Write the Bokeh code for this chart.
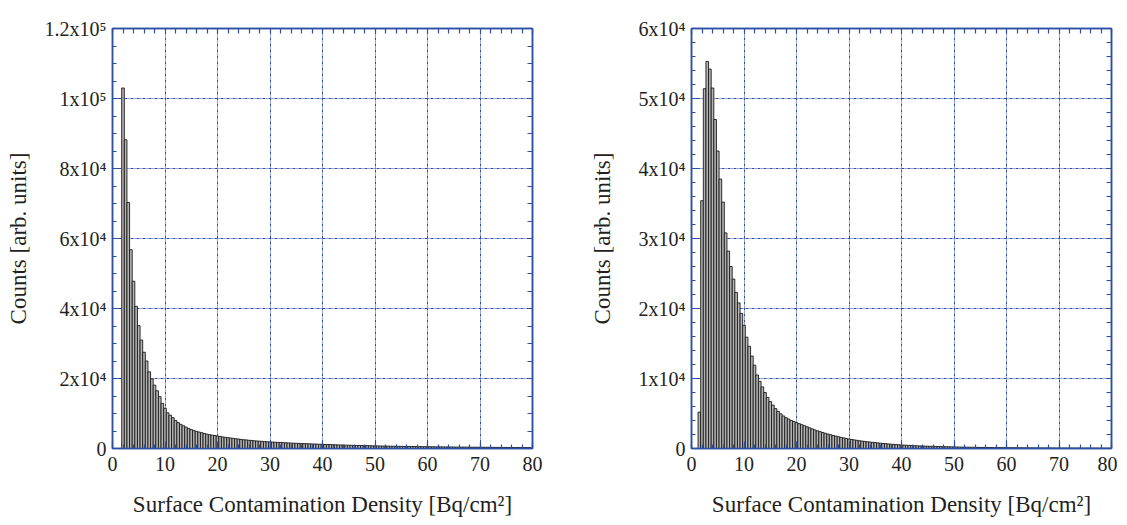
from bokeh.plotting import figure
from bokeh.models import Range1d, LinearAxis, FixedTicker
from bokeh.layouts import row
from bokeh.embed import file_html
from bokeh.resources import INLINE

# ---------------- data ----------------
bin_width = 0.5

left_first_center = 2.0
left_counts = [
    103000, 88200, 70300, 56800, 47800, 40600, 35100, 31000, 27500, 25000,
    21900, 19900, 18100, 16500, 14800, 12900, 11500,
    10200, 9500, 8800, 8000, 7400, 6900, 6500, 6100, 5700, 5400,
    5100, 4900, 4700, 4500, 4300, 4100, 3950, 3800, 3700, 3550,
    3450, 3300, 3200, 3100, 3000, 2900, 2800, 2700, 2600, 2500,
    2450, 2350, 2300, 2200, 2150, 2100, 2050, 1980, 1920, 1870,
    1830, 1790, 1750, 1710, 1670, 1630, 1590, 1560, 1520, 1490,
    1460, 1430, 1400, 1370, 1340, 1310, 1280, 1250, 1220, 1190,
    1160, 1130, 1110, 1080, 1060, 1030, 1010, 990, 960, 940,
    920, 900, 880, 860, 840, 820, 800, 790, 770, 750,
    740, 720, 710, 690, 680, 660, 650, 640, 620, 610,
    600, 590, 580, 570, 560, 550, 540, 530, 520, 510,
    500, 490, 480, 470, 465, 455, 450, 440, 430, 425,
    415, 410, 400, 395, 390, 380, 375, 370, 360, 355,
    350, 345, 340, 330, 325, 320, 315, 310, 305, 300,
    295, 290, 285, 280, 275, 270, 265, 260, 255,
]

right_first_center = 1.5
right_counts = [
    5200, 35400, 51400, 55300, 54200, 51500, 47000, 42500, 38500, 35200,
    30800, 28200, 26000, 24200, 22300, 20800, 19300, 17600,
    15900, 14600, 13200, 11900, 10500, 9600, 8800, 8000, 7300, 6700,
    6200, 5700, 5300, 4950, 4650, 4400, 4200, 4000, 3850, 3700,
    3550, 3400, 3250, 3100, 2950, 2800, 2650, 2520, 2400, 2280,
    2170, 2060, 1960, 1860, 1770, 1680, 1590, 1510, 1430, 1360,
    1290, 1230, 1170, 1110, 1060, 1010, 960, 920, 880, 840,
    800, 760, 720, 690, 650, 620, 590, 560, 530, 500,
    480, 460, 440, 420, 400, 385, 370, 355, 340, 325,
    315, 305, 295, 285, 275, 265, 255, 245, 235, 225,
    215, 208, 200, 193, 186, 180, 174, 168, 162, 156,
    151, 146, 141, 136, 131, 127, 123, 119, 115, 111,
    108, 105, 102, 99, 96, 93, 90, 88, 86, 84,
    82, 80, 78, 76, 74, 72, 70, 68, 66, 64,
    62, 60, 58, 57, 56, 55, 54, 53, 52, 51,
    50, 49, 48, 47, 46, 45, 44, 43, 42,
]

x_ticks = [0, 10, 20, 30, 40, 50, 60, 70, 80]
x_minor = list(range(0, 81, 2))

left_yticks = [0, 20000, 40000, 60000, 80000, 100000, 120000]
left_ylabels = ["0", "2x10\u2074", "4x10\u2074", "6x10\u2074", "8x10\u2074",
                "1x10\u2075", "1.2x10\u2075"]
left_yminor = list(range(0, 120001, 5000))

right_yticks = [0, 10000, 20000, 30000, 40000, 50000, 60000]
right_ylabels = ["0", "1x10\u2074", "2x10\u2074", "3x10\u2074", "4x10\u2074",
                 "5x10\u2074", "6x10\u2074"]
right_yminor = list(range(0, 60001, 2000))

x_label = "Surface Contamination Density [Bq/cm\u00b2]"
y_label = "Counts [arb. units]"

# ---------------- style ----------------
BLUE = "#2c4fa3"
FONT = "Liberation Serif"
TXT = "#231f20"


def style_ticks(ax, major_in, minor_in):
    ax.axis_line_color = BLUE
    ax.axis_line_width = 1.5
    ax.major_tick_line_color = BLUE
    ax.minor_tick_line_color = BLUE
    ax.major_tick_line_width = 1.2
    ax.minor_tick_line_width = 1.2
    ax.major_tick_in = major_in
    ax.major_tick_out = 0
    ax.minor_tick_in = minor_in
    ax.minor_tick_out = 0


def make(counts, first_center, ymax, yticks, ylabels, yminor,
         left_border, right_border, ylabel_standoff):
    p = figure(frame_width=420, frame_height=420,
               min_border_left=left_border, min_border_right=right_border,
               min_border_top=28, min_border_bottom=76,
               x_range=Range1d(0, 80), y_range=Range1d(0, ymax),
               output_backend="svg", toolbar_location=None)
    centers = [first_center + i * bin_width for i in range(len(counts))]
    p.vbar(x=centers, top=counts, bottom=0, width=bin_width,
           fill_color="#b4b4b4", line_color="#1a1a1a", line_width=0.9)

    xt = FixedTicker(ticks=x_ticks, minor_ticks=x_minor)
    yt = FixedTicker(ticks=yticks, minor_ticks=yminor)

    xa = p.xaxis[0]
    ya = p.yaxis[0]
    xa.ticker = xt
    ya.ticker = yt
    style_ticks(xa, 7, 4)
    style_ticks(ya, 7, 4)
    ya.major_label_overrides = {t: l for t, l in zip(yticks, ylabels)}
    for a in (xa, ya):
        a.major_label_text_font = FONT
        a.major_label_text_font_size = "20px"
        a.major_label_text_color = TXT
        a.axis_label_text_font = FONT
        a.axis_label_text_font_size = "23px"
        a.axis_label_text_font_style = "normal"
        a.axis_label_text_color = TXT
    xa.major_label_standoff = 8
    ya.major_label_standoff = 6
    xa.axis_label = x_label
    ya.axis_label = y_label
    xa.axis_label_standoff = 18
    ya.axis_label_standoff = ylabel_standoff

    # tick marks on top and right frame edges (no labels)
    top = LinearAxis(ticker=FixedTicker(ticks=[], minor_ticks=x_minor))
    style_ticks(top, 0, 5)
    p.add_layout(top, "above")
    rt = LinearAxis(ticker=FixedTicker(ticks=[], minor_ticks=yminor))
    style_ticks(rt, 0, 5)
    p.add_layout(rt, "right")

    for g in (p.xgrid[0], p.ygrid[0]):
        g.grid_line_color = BLUE
        g.grid_line_dash = "3 1 1 1"
        g.grid_line_width = 1
        g.grid_line_alpha = 1.0
    p.xgrid.ticker = xt
    p.ygrid.ticker = yt

    p.outline_line_color = BLUE
    p.outline_line_width = 1.5
    p.background_fill_color = "white"
    p.border_fill_color = "white"
    return p


p1 = make(left_counts, left_first_center, 120000, left_yticks, left_ylabels,
          left_yminor, 112, 54, 11)
p2 = make(right_counts, right_first_center, 60000, right_yticks, right_ylabels,
          right_yminor, 103, 6, 21)

layout = row(p1, p2)
open("out.html", "w").write(file_html(layout, INLINE))
